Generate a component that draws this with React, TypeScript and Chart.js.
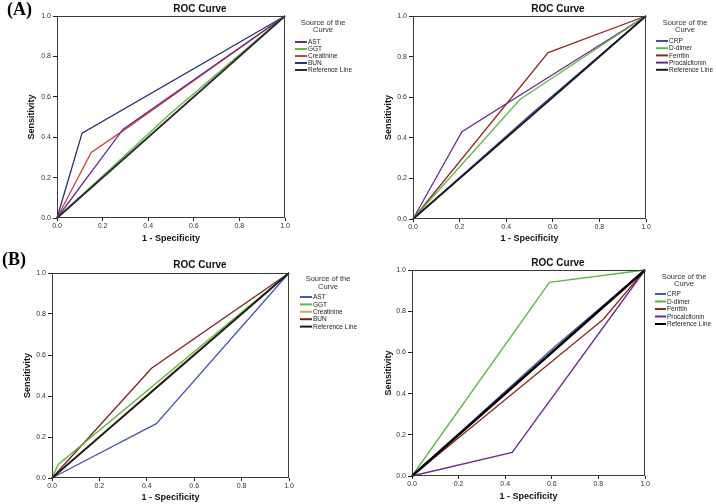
import React, { useEffect, useRef } from "react";
import { Chart, registerables } from "chart.js";
Chart.register(...registerables);

const FONT = "'Liberation Sans', Arial, sans-serif";
const TICKS = [0, 0.2, 0.4, 0.6, 0.8, 1.0];
const LEGEND_TITLE = ["Source of the", "Curve"];

// ---- Panel A (left): liver / kidney markers
const A1_NAMES = ["AST", "GGT", "Creatinine", "BUN", "Reference Line"];
const A1_COLORS = ["#6a2c8a", "#62b548", "#c8423e", "#2e2e70", "#2a2a2a"];
const A1_AST_FPR = [0, 0.29, 1];
const A1_AST_TPR = [0, 0.44, 1];
const A1_GGT_FPR = [0, 0.5, 1];
const A1_GGT_TPR = [0, 0.52, 1];
const A1_CREA_FPR = [0, 0.15, 0.3, 1];
const A1_CREA_TPR = [0, 0.325, 0.44, 1];
const A1_BUN_FPR = [0, 0.11, 1];
const A1_BUN_TPR = [0, 0.42, 1];
const REF_FPR = [0, 1];
const REF_TPR = [0, 1];

// ---- Panel A (right): inflammatory markers
const A2_NAMES = ["CRP", "D-dimer", "Ferritin", "Procalcitonin", "Reference Line"];
const A2_COLORS = ["#3f4ea6", "#62b548", "#8b2a26", "#6a2c8a", "#1a1a1a"];
const A2_CRP_FPR = [0, 0.5, 1];
const A2_CRP_TPR = [0, 0.51, 1];
const A2_DD_FPR = [0, 0.46, 1];
const A2_DD_TPR = [0, 0.59, 1];
const A2_FER_FPR = [0, 0.58, 1];
const A2_FER_TPR = [0, 0.82, 1];
const A2_PCT_FPR = [0, 0.21, 1];
const A2_PCT_TPR = [0, 0.43, 1];

// ---- Panel B (left)
const B1_NAMES = ["AST", "GGT", "Creatinine", "BUN", "Reference Line"];
const B1_COLORS = ["#4a55b0", "#5cb544", "#e0a04a", "#7a2222", "#1a1a1a"];
const B1_AST_FPR = [0, 0.44, 1];
const B1_AST_TPR = [0, 0.265, 1];
const B1_GGT_FPR = [0, 0.025, 1];
const B1_GGT_TPR = [0, 0.065, 1];
const B1_CREA_FPR = [0, 0.5, 1];
const B1_CREA_TPR = [0, 0.505, 1];
const B1_BUN_FPR = [0, 0.42, 1];
const B1_BUN_TPR = [0, 0.535, 1];

// ---- Panel B (right)
const B2_NAMES = ["CRP", "D-dimer", "Ferritin", "Procalcitonin", "Reference Line"];
const B2_COLORS = ["#4a55b0", "#5cb544", "#8b2a22", "#6a2c8a", "#000000"];
const B2_CRP_FPR = [0, 0.6, 1];
const B2_CRP_TPR = [0, 0.615, 1];
const B2_DD_FPR = [0, 0.59, 1];
const B2_DD_TPR = [0, 0.94, 1];
const B2_FER_FPR = [0, 0.82, 1];
const B2_FER_TPR = [0, 0.76, 1];
const B2_PCT_FPR = [0, 0.43, 1];
const B2_PCT_TPR = [0, 0.115, 1];

type Geom = {
  x0: number; y0: number; w: number; h: number;
  L: number; R: number; T: number; B: number;
  titleX: number; titleY: number;
  xTitleY: number; yTitleX: number;
  legTitleX: number; legTitleY: number; legTitleStep: number;
  legLineX1: number; legLineX2: number; legTextX: number;
  legRowY: number; legRowStep: number;
  refWidth: number;
};

type Panel = {
  names: string[];
  colors: string[];
  fpr: number[][];
  tpr: number[][];
  g: Geom;
};

const PANELS: Panel[] = [
  {
    names: A1_NAMES, colors: A1_COLORS,
    fpr: [A1_AST_FPR, A1_GGT_FPR, A1_CREA_FPR, A1_BUN_FPR, REF_FPR],
    tpr: [A1_AST_TPR, A1_GGT_TPR, A1_CREA_TPR, A1_BUN_TPR, REF_TPR],
    g: { x0: 0, y0: 0, w: 358, h: 250, L: 57, R: 285, T: 16, B: 218,
      titleX: 200, titleY: 9, xTitleY: 239, yTitleX: 32,
      legTitleX: 323, legTitleY: 23, legTitleStep: 7,
      legLineX1: 295, legLineX2: 307, legTextX: 308, legRowY: 42, legRowStep: 7, refWidth: 1.8 },
  },
  {
    names: A2_NAMES, colors: A2_COLORS,
    fpr: [A2_CRP_FPR, A2_DD_FPR, A2_FER_FPR, A2_PCT_FPR, REF_FPR],
    tpr: [A2_CRP_TPR, A2_DD_TPR, A2_FER_TPR, A2_PCT_TPR, REF_TPR],
    g: { x0: 358, y0: 0, w: 358, h: 250, L: 55, R: 288, T: 16, B: 219,
      titleX: 200, titleY: 9, xTitleY: 239, yTitleX: 31,
      legTitleX: 327, legTitleY: 23, legTitleStep: 7,
      legLineX1: 298, legLineX2: 310, legTextX: 311, legRowY: 41, legRowStep: 7.2, refWidth: 1.8 },
  },
  {
    names: B1_NAMES, colors: B1_COLORS,
    fpr: [B1_AST_FPR, B1_GGT_FPR, B1_CREA_FPR, B1_BUN_FPR, REF_FPR],
    tpr: [B1_AST_TPR, B1_GGT_TPR, B1_CREA_TPR, B1_BUN_TPR, REF_TPR],
    g: { x0: 0, y0: 250, w: 358, h: 254, L: 52, R: 289, T: 23, B: 228,
      titleX: 200, titleY: 15, xTitleY: 248, yTitleX: 28,
      legTitleX: 328, legTitleY: 29, legTitleStep: 7.5,
      legLineX1: 300, legLineX2: 312, legTextX: 313, legRowY: 47, legRowStep: 7.4, refWidth: 1.8 },
  },
  {
    names: B2_NAMES, colors: B2_COLORS,
    fpr: [B2_CRP_FPR, B2_DD_FPR, B2_FER_FPR, B2_PCT_FPR, REF_FPR],
    tpr: [B2_CRP_TPR, B2_DD_TPR, B2_FER_TPR, B2_PCT_TPR, REF_TPR],
    g: { x0: 358, y0: 250, w: 358, h: 254, L: 54, R: 287, T: 20, B: 226,
      titleX: 200, titleY: 13, xTitleY: 247, yTitleX: 31,
      legTitleX: 326, legTitleY: 27, legTitleStep: 7,
      legLineX1: 297, legLineX2: 308, legTextX: 309, legRowY: 44, legRowStep: 7.5, refWidth: 2.4 },
  },
];

const decorPlugin = {
  id: "decor",
  afterDraw(chart: any, _args: any, opts: any) {
    const ctx = chart.ctx;
    const ca = chart.chartArea;
    const g: Geom = opts.g;
    ctx.save();
    // frame
    ctx.strokeStyle = "#3a3a3a";
    ctx.lineWidth = 1;
    ctx.strokeRect(ca.left + 0.5, ca.top + 0.5, ca.right - ca.left - 1, ca.bottom - ca.top - 1);
    // title
    ctx.fillStyle = "#111";
    ctx.font = `bold 10px ${FONT}`;
    ctx.textAlign = "center";
    ctx.textBaseline = "middle";
    ctx.fillText("ROC Curve", g.titleX, g.titleY);
    // legend title
    ctx.fillStyle = "#333";
    ctx.font = `7.5px ${FONT}`;
    LEGEND_TITLE.forEach((t, i) => ctx.fillText(t, g.legTitleX, g.legTitleY + i * g.legTitleStep));
    // legend items
    ctx.textAlign = "left";
    ctx.font = `6.5px ${FONT}`;
    chart.data.datasets.forEach((ds: any, i: number) => {
      const y = g.legRowY + i * g.legRowStep;
      ctx.strokeStyle = ds.borderColor;
      ctx.lineWidth = 2;
      ctx.beginPath();
      ctx.moveTo(g.legLineX1, y);
      ctx.lineTo(g.legLineX2, y);
      ctx.stroke();
      ctx.fillStyle = "#222";
      ctx.fillText(ds.label, g.legTextX, y + 0.5);
    });
    ctx.restore();
  },
};

function RocChart({ p }: { p: Panel }) {
  const ref = useRef<HTMLCanvasElement | null>(null);
  useEffect(() => {
    if (!ref.current) return;
    const g = p.g;
    const n = p.names.length;
    const datasets = p.names.map((name, i) => ({
      label: name,
      data: p.fpr[i].map((x, j) => ({ x, y: p.tpr[i][j] })),
      borderColor: p.colors[i],
      backgroundColor: p.colors[i],
      showLine: true,
      pointRadius: 0,
      borderWidth: i === n - 1 ? g.refWidth : 1.3,
      tension: 0,
      order: i === n - 1 ? -1 : 0,
      clip: 3,
    }));
    const tickFmt = (v: any) => Number(v).toFixed(1);
    const chart = new Chart(ref.current, {
      type: "scatter",
      data: { datasets },
      options: {
        responsive: false,
        animation: false,
        devicePixelRatio: 1,
        layout: { padding: { left: 0, top: g.T, right: g.w - g.R, bottom: 0 } },
        plugins: {
          legend: { display: false },
          tooltip: { enabled: false },
          decor: { g },
        } as any,
        scales: {
          x: {
            type: "linear", min: 0, max: 1, position: "bottom",
            afterBuildTicks: (s: any) => { s.ticks = TICKS.map((v) => ({ value: v })); },
            ticks: { callback: tickFmt, font: { family: FONT, size: 7 }, color: "#333", padding: 1, maxRotation: 0, autoSkip: false },
            grid: { drawOnChartArea: false, drawTicks: true, tickLength: 3, color: "#222" },
            border: { display: false },
            title: { display: true, text: "1 - Specificity", color: "#111",
              font: { family: FONT, size: 9, weight: "bold" },
              padding: { top: 0, bottom: g.h - g.xTitleY - 5.4 } },
            afterFit: (s: any) => { s.height = g.h - g.B; },
          },
          y: {
            type: "linear", min: 0, max: 1, position: "left",
            afterBuildTicks: (s: any) => { s.ticks = TICKS.map((v) => ({ value: v })); },
            ticks: { callback: tickFmt, font: { family: FONT, size: 7 }, color: "#333", padding: 2, autoSkip: false },
            grid: { drawOnChartArea: false, drawTicks: true, tickLength: 4, color: "#222" },
            border: { display: false },
            title: { display: true, text: "Sensitivity", color: "#111",
              font: { family: FONT, size: 9, weight: "bold" },
              padding: { top: g.yTitleX - 5.4, bottom: 0 } },
            afterFit: (s: any) => { s.width = g.L; },
          },
        },
      } as any,
      plugins: [decorPlugin],
    });
    return () => chart.destroy();
  }, [p]);
  return (
    <canvas
      ref={ref}
      width={p.g.w}
      height={p.g.h}
      style={{ position: "absolute", left: p.g.x0, top: p.g.y0, width: p.g.w, height: p.g.h }}
    />
  );
}

export default function App() {
  return (
    <div style={{ position: "fixed", left: 0, top: 0, width: 716, height: 504, background: "#fff", overflow: "hidden" }}>
      {PANELS.map((p, i) => <RocChart key={i} p={p} />)}
      <div style={{ position: "absolute", left: 7, top: 0, font: "bold 18px 'Liberation Serif', serif", lineHeight: "19px", color: "#000" }}>(A)</div>
      <div style={{ position: "absolute", left: 2, top: 250, font: "bold 18px 'Liberation Serif', serif", lineHeight: "19px", color: "#000" }}>(B)</div>
    </div>
  );
}
